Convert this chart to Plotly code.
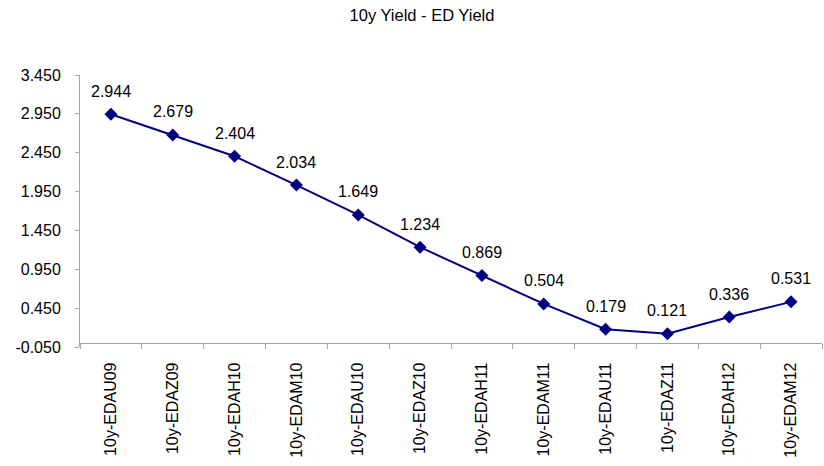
import plotly.graph_objects as go

# Spread between 10y yield and Eurodollar strip yields
contracts = ["10y-EDAU09", "10y-EDAZ09", "10y-EDAH10", "10y-EDAM10", "10y-EDAU10", "10y-EDAZ10",
             "10y-EDAH11", "10y-EDAM11", "10y-EDAU11", "10y-EDAZ11", "10y-EDAH12", "10y-EDAM12"]
spread = [2.944, 2.679, 2.404, 2.034, 1.649, 1.234, 0.869, 0.504, 0.179, 0.121, 0.336, 0.531]
y_ticks = [-0.05, 0.45, 0.95, 1.45, 1.95, 2.45, 2.95, 3.45]

FONT = "Liberation Sans, Arial, sans-serif"
AXIS_GREY = "#a6a6a6"
y_min, y_max = -0.05, 3.45

fig = go.Figure()
fig.add_trace(go.Scatter(
    x=contracts, y=spread, mode="lines+markers",
    line=dict(color="#000080", width=2),
    marker=dict(symbol="diamond", size=10, color="#000080"),
    hoverinfo="x+y", showlegend=False,
))

# value labels above each point
for c, v in zip(contracts, spread):
    fig.add_annotation(x=c, y=v, text=f"{v:.3f}", showarrow=False, yshift=23,
                       font=dict(family=FONT, size=16, color="black"))

fig.update_layout(
    width=824, height=466,
    margin=dict(l=80, r=2, t=75, b=119),
    paper_bgcolor="white", plot_bgcolor="white",
    title=dict(text="10y Yield - ED Yield", x=422 / 824, xanchor="center", y=1 - 15 / 466,
               yanchor="middle", xref="container",
               font=dict(family=FONT, size=16.5, color="black")),
    xaxis=dict(
        type="category", range=[-0.5, len(contracts) - 0.5],
        anchor="free", position=(0 - y_min) / (y_max - y_min),
        showline=True, linecolor=AXIS_GREY, linewidth=1,
        ticks="outside", tickson="boundaries", ticklen=5, tickcolor=AXIS_GREY,
        tickangle=-90, ticklabelstandoff=12,
        showgrid=False, zeroline=False,
        tickfont=dict(family=FONT, size=16, color="black"),
    ),
    yaxis=dict(
        range=[y_min, y_max], tickvals=y_ticks,
        ticktext=[f"{t:.3f}" for t in y_ticks],
        showline=True, linecolor=AXIS_GREY, linewidth=1,
        ticks="outside", ticklen=4, tickcolor=AXIS_GREY,
        ticklabelstandoff=11,
        showgrid=False, zeroline=False,
        tickfont=dict(family=FONT, size=16, color="black"),
    ),
)

fig.write_html("out.html")
